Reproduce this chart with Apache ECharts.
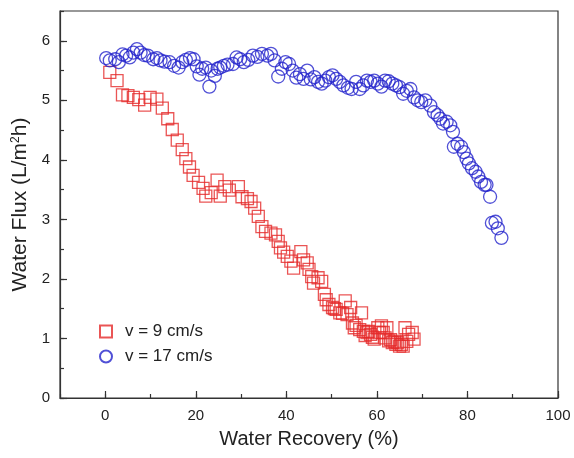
<!DOCTYPE html>
<html>
<head>
<meta charset="utf-8">
<script src="https://cdn.jsdelivr.net/npm/echarts@6/dist/echarts.min.js"></script>
<style>html,body{margin:0;padding:0;background:#fff;}#c{width:574px;height:458px;}</style>
</head>
<body>
<div id="c"></div>
<script>
// Series: v = 9 cm/s (red squares) — [water recovery %, water flux]
const recovery9 = [1.0,2.6,3.8,5.0,6.2,7.4,8.7,9.9,11.4,12.6,13.8,14.8,15.9,17.0,17.8,18.6,19.4,20.6,21.6,22.2,23.4,24.7,25.4,26.4,27.4,29.4,30.2,31.4,32.2,33.0,33.8,34.6,35.4,36.6,37.6,38.2,38.7,39.4,40.2,41.0,41.6,43.2,43.8,44.6,45.0,45.6,46.0,47.0,47.8,48.4,48.8,49.4,50.2,50.6,51.0,51.8,52.4,53.0,53.4,54.2,54.6,55.0,55.4,56.2,56.6,57.0,57.4,57.8,58.2,58.6,59.0,59.4,60.2,60.6,61.0,61.4,61.8,62.2,62.6,63.0,63.4,63.8,64.2,64.6,65.0,65.4,65.8,66.2,66.6,67.0,67.8,68.2];
const flux9 = [5.47,5.33,5.09,5.08,5.05,5.01,4.92,5.05,5.02,4.87,4.69,4.51,4.33,4.17,4.02,3.88,3.74,3.62,3.52,3.39,3.45,3.66,3.39,3.55,3.49,3.55,3.38,3.35,3.30,3.19,3.05,2.88,2.80,2.77,2.74,2.63,2.52,2.45,2.38,2.30,2.18,2.46,2.32,2.27,2.16,2.04,1.93,2.02,1.96,1.74,1.65,1.57,1.52,1.50,1.49,1.43,1.42,1.63,1.40,1.52,1.26,1.18,1.22,1.15,1.43,1.12,1.05,1.10,1.12,1.07,1.02,0.99,1.18,1.10,1.21,1.10,1.01,1.18,0.96,0.98,0.93,0.95,0.90,0.93,0.87,0.90,0.87,1.18,0.95,1.07,1.10,0.99];
// Series: v = 17 cm/s (blue circles)
const recovery17 = [0.2,1.0,2.2,3.0,3.8,4.6,5.4,6.2,7.0,7.8,8.6,9.4,10.6,11.4,12.2,13.1,14.2,15.2,16.2,17.0,17.8,18.7,19.5,20.2,20.8,21.4,22.2,23.0,23.4,24.2,24.8,25.4,26.2,27.0,28.2,29.0,29.8,30.6,31.6,32.6,33.6,34.6,35.8,36.6,37.4,38.2,39.0,39.8,40.6,41.4,42.2,43.0,43.8,44.6,45.4,46.2,47.0,47.8,48.6,49.4,50.2,51.0,51.8,52.6,53.6,54.4,55.4,56.2,57.0,57.8,58.6,59.4,60.2,61.0,61.8,62.6,63.4,64.2,65.0,65.8,66.6,67.4,68.2,69.0,69.8,70.7,71.8,72.6,73.4,74.0,74.6,75.4,76.2,76.8,77.0,77.8,78.6,79.2,79.8,80.3,81.0,81.8,82.4,83.0,83.8,84.2,85.0,85.4,86.2,86.7,87.5];
const flux17 = [5.71,5.67,5.69,5.64,5.77,5.75,5.72,5.80,5.86,5.80,5.76,5.75,5.69,5.71,5.67,5.65,5.64,5.58,5.55,5.64,5.68,5.71,5.69,5.57,5.43,5.53,5.55,5.23,5.50,5.41,5.53,5.55,5.58,5.60,5.61,5.72,5.69,5.64,5.68,5.75,5.73,5.78,5.75,5.78,5.67,5.40,5.53,5.64,5.61,5.50,5.38,5.44,5.36,5.50,5.35,5.39,5.31,5.28,5.33,5.39,5.42,5.36,5.31,5.25,5.21,5.19,5.31,5.19,5.25,5.33,5.31,5.33,5.28,5.23,5.33,5.32,5.28,5.25,5.22,5.11,5.16,5.19,5.05,5.00,4.97,5.00,4.91,4.80,4.75,4.69,4.61,4.64,4.58,4.47,4.22,4.27,4.22,4.13,4.02,3.94,3.86,3.80,3.72,3.63,3.58,3.58,3.38,2.94,2.96,2.85,2.69];
const xLabelTicks = [0,20,40,60,80,100];
const yLabelTicks = [0,1,2,3,4,5,6];
const seriesNames = ['v = 9 cm/s','v = 17 cm/s'];

const RED = '#e52b2b', BLUE = '#2424cc', AX = '#333';
const zip = (a,b) => a.map((v,i)=>[v,b[i]]);
const font = 'Arial, "Liberation Sans", sans-serif';

const baseX = {type:'value', min:-10, max:100, position:'bottom', splitLine:{show:false}};
const baseY = {type:'value', min:0, max:6.5, position:'left', splitLine:{show:false}};

const chart = echarts.init(document.getElementById('c'));
chart.setOption({
  animation:false,
  textStyle:{fontFamily:font},
  grid:{left:60, right:16, top:11, bottom:60, show:true, borderColor:AX, borderWidth:1.2, containLabel:false},
  legend:{
    orient:'vertical', left:94, top:318, itemWidth:12, itemHeight:12, itemGap:8,
    data:seriesNames,
    textStyle:{fontSize:17, color:'#222', fontFamily:font, padding:[0,0,0,8]}
  },
  xAxis:[
    Object.assign({}, baseX, {
      interval:10,
      name:'Water Recovery (%)', nameLocation:'middle', nameGap:31,
      nameTextStyle:{fontSize:20, color:'#222', fontFamily:font},
      axisLine:{show:true, onZero:false, lineStyle:{color:AX, width:1.2}},
      axisTick:{show:true, inside:true, length:4, lineStyle:{color:AX, width:1.2}},
      axisLabel:{customValues:xLabelTicks, fontSize:15, color:'#222', margin:10, fontFamily:font}
    }),
    Object.assign({}, baseX, {
      axisLine:{show:false, onZero:false},
      axisTick:{show:true, inside:true, length:7, customValues:xLabelTicks, lineStyle:{color:AX, width:1.2}},
      axisLabel:{show:false}
    })
  ],
  yAxis:[
    Object.assign({}, baseY, {
      interval:0.5,
      name:'Water Flux (L/m{sup|2}h)', nameLocation:'middle', nameGap:27,
      nameTextStyle:{fontSize:21, color:'#222', fontFamily:font,
        rich:{sup:{fontSize:12, verticalAlign:'top', padding:[0,0,10,0], color:'#222'}}},
      axisLine:{show:true, onZero:false, lineStyle:{color:AX, width:1.2}},
      axisTick:{show:true, inside:true, length:4, lineStyle:{color:AX, width:1.2}},
      axisLabel:{customValues:yLabelTicks, fontSize:15, color:'#222', margin:10, fontFamily:font}
    }),
    Object.assign({}, baseY, {
      axisLine:{show:false, onZero:false},
      axisTick:{show:true, inside:true, length:7, customValues:yLabelTicks, lineStyle:{color:AX, width:1.2}},
      axisLabel:{show:false}
    })
  ],
  series:[
    {name:seriesNames[0], type:'scatter', symbol:'rect', symbolSize:12,
     itemStyle:{color:'rgba(255,255,255,0)', borderColor:RED, borderWidth:1.3},
     data:zip(recovery9, flux9)},
    {name:seriesNames[1], type:'scatter', symbol:'circle', symbolSize:13,
     itemStyle:{color:'rgba(255,255,255,0)', borderColor:BLUE, borderWidth:1.3},
     data:zip(recovery17, flux17)}
  ]
});
</script>
</body>
</html>
